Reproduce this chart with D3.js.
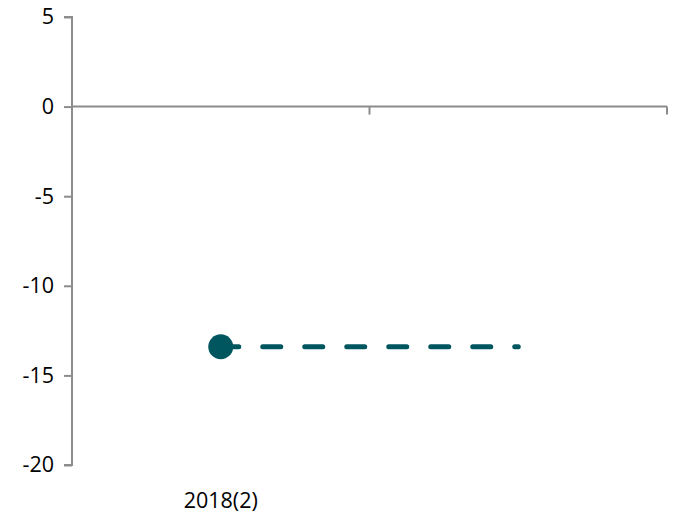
<!DOCTYPE html>
<html><head><meta charset="utf-8">
<script src="https://cdn.jsdelivr.net/npm/d3@7"></script>
<style>body{margin:0;background:#fff}svg{display:block}text{font-family:"Open Sans",sans-serif;fill:#000}</style>
</head><body><svg id="c" width="679" height="519"></svg>
<script>
const categories = ["2018(2)", "2018(2)b"];
const categoryLabels = ["2018(2)", ""];
const pointValues = [-13.4];
const dashedValues = [-13.4, -13.4];
const yTicks = [5, 0, -5, -10, -15, -20];

const svg = d3.select("#c");
const x = d3.scaleBand().domain(categories).range([72, 667]);
const y = d3.scaleLinear().domain([-20, 5]).range([465, 17]);
const axisColor = "#8c8c8c";
const teal = "#00565f";

// y axis
const gy = svg.append("g").attr("transform", "translate(72,0)")
  .call(d3.axisLeft(y).tickValues(yTicks).tickSize(8).tickPadding(10).tickFormat(d => String(d)));
gy.select(".domain").attr("stroke", axisColor).attr("stroke-width", 2);
gy.selectAll(".tick line").attr("stroke", axisColor).attr("stroke-width", 2);
gy.selectAll(".tick text").style("font-size", "21.5px").style("font-family", "'Open Sans',sans-serif").attr("fill", "#000");
gy.select(".domain").attr("d", `M-8,${y(5)}H0V${y(-20)}H-8`);

// x axis at zero
const gx = svg.append("g").attr("transform", `translate(0,${y(0)})`)
  .call(d3.axisBottom(x).tickSize(0).tickFormat(() => ""));
gx.select(".domain").attr("stroke", axisColor).attr("stroke-width", 2).attr("d", `M72,0H667`);
gx.selectAll(".tick").remove();
const bounds = [x(categories[0]) + x.bandwidth(), x(categories[1]) + x.bandwidth()];
gx.selectAll("line.bt").data(bounds).enter().append("line")
  .attr("x1", d => d).attr("x2", d => d).attr("y1", 0).attr("y2", 8)
  .attr("stroke", axisColor).attr("stroke-width", 2);

// category labels at bottom
svg.selectAll("text.cat").data(categories).enter().append("text")
  .attr("class", "cat")
  .attr("x", d => x(d) + x.bandwidth() / 2)
  .attr("y", 508)
  .attr("text-anchor", "middle")
  .style("font-size", "21.5px")
  .text((d, i) => categoryLabels[i]);

// dashed line
const line = d3.line().x((d, i) => x(categories[i]) + x.bandwidth() / 2).y(d => y(d));
svg.append("path").datum(dashedValues).attr("d", line)
  .attr("fill", "none").attr("stroke", teal).attr("stroke-width", 5)
  .attr("stroke-dasharray", "18,24").attr("stroke-linecap", "round");

// point
svg.selectAll("circle.pt").data(pointValues).enter().append("circle")
  .attr("cx", (d, i) => x(categories[i]) + x.bandwidth() / 2)
  .attr("cy", d => y(d)).attr("r", 12.5).attr("fill", teal);
</script></body></html>
